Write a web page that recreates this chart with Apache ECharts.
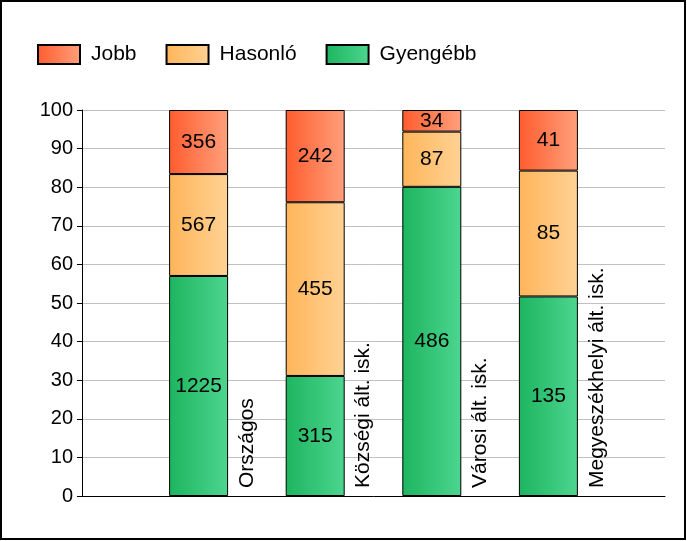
<!DOCTYPE html>
<html>
<head>
<meta charset="utf-8">
<script src="https://cdn.jsdelivr.net/npm/echarts@6/dist/echarts.min.js"></script>
<style>
    html, body { margin: 0; padding: 0; background: #fff; }
    #chart { width: 687px; height: 541px; }
</style>
</head>
<body>
<div id="chart"></div>
<script>
// kategóriák
const categories = ['Országos', 'Községi ált. isk.', 'Városi ált. isk.', 'Megyeszékhelyi ált. isk.'];
// százalékos magasságok
const gyengebbPct = [57.0, 31.1, 80.1, 51.7];
const hasonloPct = [26.4, 45.0, 14.3, 32.6];
const jobbPct = [16.6, 23.9, 5.6, 15.7];
// címkék: létszámok
const gyengebbN = [1225, 315, 486, 135];
const hasonloN = [567, 455, 87, 85];
const jobbN = [356, 242, 34, 41];

const font = 'Liberation Sans, Arial, sans-serif';

// a tengely két szélén üres hely (boundaryGap nélkül az oszlopok a 2..5. pozíción)
const axisSlots = [''].concat(categories, ['']);

function pad(arr) {
    return ['-'].concat(arr, ['-']);
}

function grad(c1, c2) {
    return new echarts.graphic.LinearGradient(0, 0, 1, 0, [
        { offset: 0, color: c1 },
        { offset: 1, color: c2 }
    ]);
}

function barSeries(name, pct, counts, color) {
    const cnt = pad(counts);
    return {
        name: name,
        type: 'bar',
        stack: 'total',
        barWidth: 59,
        data: pad(pct),
        itemStyle: { color: color, borderColor: '#000', borderWidth: 1 },
        label: {
            show: true,
            position: 'inside',
            color: '#000',
            fontFamily: font,
            fontSize: 21,
            formatter: (p) => cnt[p.dataIndex]
        },
        emphasis: { disabled: true }
    };
}

const chart = echarts.init(document.getElementById('chart'));
chart.setOption({
    animation: false,
    backgroundColor: '#fff',
    grid: { left: 82, right: 22, top: 110, bottom: 45 },
    legend: {
        left: 32,
        top: 39,
        icon: 'rect',
        itemWidth: 42,
        itemHeight: 19,
        itemGap: 29,
        data: ['Jobb', 'Hasonló', 'Gyengébb'],
        textStyle: { fontFamily: font, fontSize: 21, color: '#000', padding: [0, 0, 0, 6] }
    },
    xAxis: {
        type: 'category',
        boundaryGap: false,
        data: axisSlots,
        axisLine: { show: true, lineStyle: { color: '#000', width: 1 } },
        axisTick: { show: false },
        axisLabel: { show: false },
        splitLine: { show: false }
    },
    yAxis: {
        type: 'value',
        min: 0,
        max: 100,
        interval: 10,
        axisLine: { show: true, lineStyle: { color: '#000', width: 1 } },
        axisTick: { show: true, length: 5, lineStyle: { color: '#000' } },
        axisLabel: { color: '#000', fontFamily: font, fontSize: 20, margin: 9 },
        splitLine: { lineStyle: { color: '#c0c0c0' } }
    },
    series: [
        {
            // nulla magasságú oszlop, csak a függőleges kategórianévhez
            name: 'nev',
            type: 'bar',
            stack: 'total',
            barWidth: 59,
            silent: true,
            data: pad(categories.map(() => 0)),
            itemStyle: { color: 'rgba(0,0,0,0)', borderWidth: 0 },
            label: {
                show: true,
                position: [78, -8],
                rotate: 90,
                align: 'left',
                verticalAlign: 'middle',
                color: '#000',
                fontFamily: font,
                fontSize: 21,
                formatter: (p) => axisSlots[p.dataIndex]
            }
        },
        barSeries('Gyengébb', gyengebbPct, gyengebbN, grad('#1db55f', '#4dd58f')),
        barSeries('Hasonló', hasonloPct, hasonloN, grad('#ffb55a', '#ffd294')),
        barSeries('Jobb', jobbPct, jobbN, grad('#ff5c2e', '#ffa07c'))
    ],
    graphic: [{
        type: 'rect',
        shape: { x: 1, y: 1, width: 684, height: 538 },
        style: { fill: 'none', stroke: '#000', lineWidth: 2 },
        silent: true
    }]
});
</script>
</body>
</html>
